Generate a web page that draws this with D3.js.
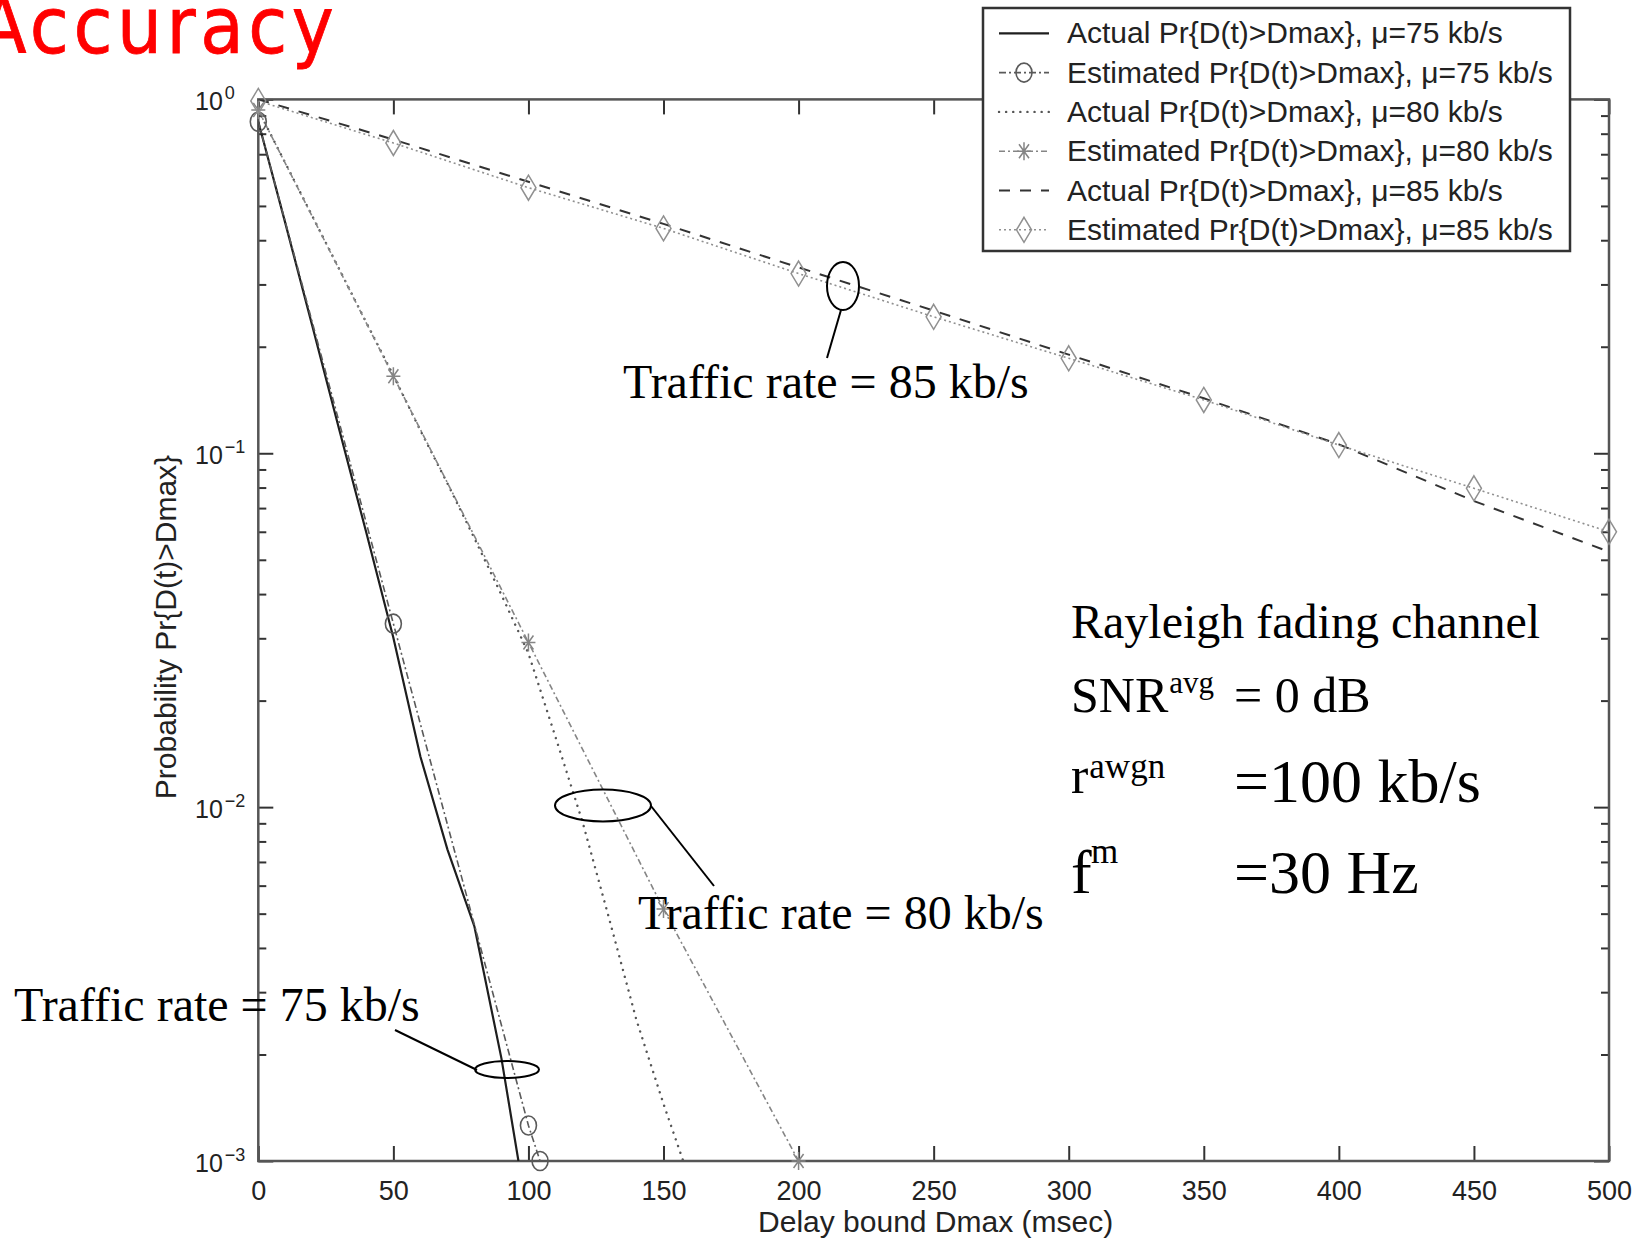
<!DOCTYPE html>
<html>
<head>
<meta charset="utf-8">
<script src="https://cdnjs.cloudflare.com/ajax/libs/d3/7.8.5/d3.min.js"></script>
<style>
  body { margin: 0; background: #fff; }
  svg { display: block; }
</style>
</head>
<body>
<svg id="chart" width="1640" height="1243"></svg>
<script>
//values: [delay bound Dmax (msec), probability Pr{D(t)>Dmax}]
var actual75 = [[0, 0.865], [10, 0.447], [20, 0.229], [30, 0.1164], [40, 0.0596], [50, 0.0301],
    [60, 0.0139], [70, 0.0076], [80, 0.0046], [90, 0.00195], [96.3, 0.001]];
var estimated75 = [[0, 0.865], [50, 0.033], [100, 0.00126], [104.3, 0.001]];
var actual80 = [[0, 0.933], [10, 0.661], [20, 0.468], [30, 0.331], [40, 0.234], [50, 0.166],
    [60, 0.116], [70, 0.0822], [80, 0.0575], [90, 0.0398], [100, 0.0272], [110, 0.0158],
    [120, 0.0091], [130, 0.0048], [140, 0.0025], [150, 0.00145], [157.3, 0.001]];
var estimated80 = [[0, 0.933], [50, 0.165], [100, 0.0292], [150, 0.00515], [200, 0.001]];
var actual85 = [[0, 1.0], [50, 0.77], [100, 0.585], [150, 0.445], [200, 0.335], [250, 0.253],
    [300, 0.19], [350, 0.143], [400, 0.106], [450, 0.0733], [500, 0.0527]];
var estimated85 = [[0, 0.99], [50, 0.753], [100, 0.563], [150, 0.432], [200, 0.322], [250, 0.243],
    [300, 0.1855], [350, 0.1415], [400, 0.1055], [450, 0.0796], [500, 0.06]];

//tick values and labels
var xTicks = [0, 50, 100, 150, 200, 250, 300, 350, 400, 450, 500];
var yMajor = [1, 0.1, 0.01, 0.001];
var yExponents = ["0", "\u22121", "\u22122", "\u22123"];

var legendLabels = [
    "Actual Pr{D(t)>Dmax}, \u03bc=75 kb/s",
    "Estimated Pr{D(t)>Dmax}, \u03bc=75 kb/s",
    "Actual Pr{D(t)>Dmax}, \u03bc=80 kb/s",
    "Estimated Pr{D(t)>Dmax}, \u03bc=80 kb/s",
    "Actual Pr{D(t)>Dmax}, \u03bc=85 kb/s",
    "Estimated Pr{D(t)>Dmax}, \u03bc=85 kb/s"
];

//how each series is drawn (same order as the legend)
var series = [
    {data: actual75, color: "#1e1e1e", width: 2.2, dash: null, marker: null},
    {data: estimated75, color: "#5a5a5a", width: 1.6, dash: "7,3,2,3", marker: "circle"},
    {data: actual80, color: "#555", width: 2.4, dash: "0.1,7", marker: null},
    {data: estimated80, color: "#858585", width: 1.6, dash: "6,3,2,3", marker: "star"},
    {data: actual85, color: "#333", width: 2, dash: "11,10", marker: null},
    {data: estimated85, color: "#909090", width: 1.6, dash: "2,3", marker: "diamond"}
];

const svg = d3.select("#chart");
const margin = {top: 99.4, left: 258.3},
    width = 1609 - margin.left,
    height = 1161 - margin.top;

const x = d3.scaleLinear().domain([0, 500]).range([0, width]);
const y = d3.scaleLog().domain([1e-3, 1]).range([height, 0]);

const sans = "'Liberation Sans', Arial, Helvetica, sans-serif";
const serif = "'Liberation Serif', 'Times New Roman', serif";

svg.append("defs").append("clipPath").attr("id", "plotClip")
    .append("rect").attr("width", width).attr("height", height);

const g = svg.append("g")
    .attr("transform", `translate(${margin.left},${margin.top})`);

//minor log ticks 2..9 of every decade
var yMinor = y.ticks().filter(d => yMajor.indexOf(d) < 0);

//axes, all ticks pointing inward like matlab
g.append("g")
    .attr("transform", `translate(0,${height})`)
    .call(d3.axisBottom(x).tickValues(xTicks).tickSize(-15).tickSizeOuter(0).tickPadding(20));
g.append("g")
    .call(d3.axisTop(x).tickValues(xTicks).tickSize(-15).tickSizeOuter(0).tickFormat(""));
g.append("g")
    .call(d3.axisLeft(y).tickValues(yMajor).tickSize(-15).tickSizeOuter(0).tickFormat(""));
g.append("g")
    .call(d3.axisLeft(y).tickValues(yMinor).tickSize(-8).tickSizeOuter(0).tickFormat(""));
g.append("g")
    .attr("transform", `translate(${width},0)`)
    .call(d3.axisRight(y).tickValues(yMajor).tickSize(-15).tickSizeOuter(0).tickFormat(""));
g.append("g")
    .attr("transform", `translate(${width},0)`)
    .call(d3.axisRight(y).tickValues(yMinor).tickSize(-8).tickSizeOuter(0).tickFormat(""));

g.selectAll(".domain").remove();
g.selectAll(".tick line").attr("stroke", "#333").attr("stroke-width", 2);
g.selectAll(".tick text")
    .attr("font-family", sans).attr("font-size", 27).attr("fill", "#222");

//y labels as 10 with a superscript exponent
var yLab = g.append("g").attr("font-family", sans).attr("fill", "#222")
    .selectAll("text").data(yMajor).join("text")
    .attr("x", 195 - margin.left)
    .attr("y", d => y(d) + 11)
    .attr("font-size", 25)
    .text("10");
yLab.append("tspan")
    .attr("dx", 2).attr("dy", -11)
    .attr("font-size", 18)
    .text((d, i) => yExponents[i]);

//plot frame
g.append("rect")
    .attr("width", width).attr("height", height)
    .attr("fill", "none").attr("stroke", "#555").attr("stroke-width", 2.5);

//curves
const line = d3.line().x(d => x(d[0])).y(d => y(d[1]));
g.append("g").attr("clip-path", "url(#plotClip)")
    .selectAll("path").data(series).join("path")
    .attr("d", d => line(d.data))
    .attr("fill", "none")
    .attr("stroke", d => d.color)
    .attr("stroke-width", d => d.width)
    .attr("stroke-linecap", d => d.dash == "0.1,7" ? "round" : "butt")
    .attr("stroke-dasharray", d => d.dash);

//draw one marker shape centred on cx,cy
function drawMarker(sel, type, cx, cy, color) {
    if (type == "circle") {
        sel.append("ellipse").attr("cx", cx).attr("cy", cy).attr("rx", 8).attr("ry", 9.5)
            .attr("fill", "none").attr("stroke", color).attr("stroke-width", 1.6);
    } else if (type == "diamond") {
        sel.append("path")
            .attr("d", `M${cx},${cy - 12.5}L${cx + 7.5},${cy}L${cx},${cy + 12.5}L${cx - 7.5},${cy}Z`)
            .attr("fill", "none").attr("stroke", color).attr("stroke-width", 1.5);
    } else if (type == "star") {
        sel.append("path")
            .attr("d", `M${cx - 7},${cy}h14M${cx},${cy - 9}v18M${cx - 5},${cy - 7}l10,14M${cx - 5},${cy + 7}l10,-14`)
            .attr("fill", "none").attr("stroke", color).attr("stroke-width", 1.5);
    }
}

var markerLayer = g.append("g");
series.forEach(function(s) {
    if (!s.marker) return;
    s.data.forEach(function(d) {
        drawMarker(markerLayer, s.marker, x(d[0]), y(d[1]), s.color);
    });
});

//axis titles
svg.append("text")
    .attr("x", margin.left + width / 2 + 2).attr("y", 1232)
    .attr("text-anchor", "middle")
    .attr("font-family", sans).attr("font-size", 30).attr("fill", "#222")
    .text("Delay bound Dmax (msec)");
svg.append("text")
    .attr("transform", "translate(176,627) rotate(-90)")
    .attr("text-anchor", "middle")
    .attr("font-family", sans).attr("font-size", 30).attr("fill", "#222")
    .text("Probability Pr{D(t)>Dmax}");

//legend box sits over the top right corner of the axes
var legend = svg.append("g");
legend.append("rect")
    .attr("x", 983).attr("y", 8).attr("width", 587).attr("height", 243)
    .attr("fill", "#fff").attr("stroke", "#333").attr("stroke-width", 2.5);
legendLabels.forEach(function(label, i) {
    var s = series[i];
    var base = 43.3 + i * 39.3;
    legend.append("line")
        .attr("x1", 999).attr("x2", 1049)
        .attr("y1", base - 10).attr("y2", base - 10)
        .attr("stroke", s.color).attr("stroke-width", s.width)
        .attr("stroke-linecap", s.dash == "0.1,7" ? "round" : "butt")
        .attr("stroke-dasharray", s.dash);
    if (s.marker) drawMarker(legend, s.marker, 1024, base - 10, s.color);
    legend.append("text")
        .attr("x", 1067).attr("y", base)
        .attr("font-family", sans).attr("font-size", 30).attr("fill", "#222")
        .text(label);
});

//hand drawn annotations: ellipse round the curves and a pointer line
var notes = svg.append("g").attr("fill", "none").attr("stroke", "#000").attr("stroke-width", 2);
notes.append("ellipse").attr("cx", 843).attr("cy", 286).attr("rx", 16).attr("ry", 24);
notes.append("line").attr("x1", 841).attr("y1", 310).attr("x2", 827).attr("y2", 358);
notes.append("ellipse").attr("cx", 603).attr("cy", 805.5).attr("rx", 48).attr("ry", 16);
notes.append("line").attr("x1", 651).attr("y1", 806).attr("x2", 714).attr("y2", 886);
notes.append("ellipse").attr("cx", 507).attr("cy", 1069.5).attr("rx", 32).attr("ry", 8.5);
notes.append("line").attr("x1", 395).attr("y1", 1030).attr("x2", 477).attr("y2", 1070);

var words = svg.append("g").attr("font-family", serif).attr("fill", "#000");
words.append("text").attr("x", 623).attr("y", 398).attr("font-size", 48).text("Traffic rate = 85 kb/s");
words.append("text").attr("x", 638).attr("y", 929).attr("font-size", 48).text("Traffic rate = 80 kb/s");
words.append("text").attr("x", 14).attr("y", 1021).attr("font-size", 48).text("Traffic rate = 75 kb/s");

//channel parameters
words.append("text").attr("x", 1071).attr("y", 638).attr("font-size", 48).text("Rayleigh fading channel");
var snr = words.append("text").attr("x", 1071).attr("y", 712).attr("font-size", 50);
snr.append("tspan").text("SNR");
snr.append("tspan").attr("dx", 1).attr("dy", -19).attr("font-size", 31).text("avg");
words.append("text").attr("x", 1234).attr("y", 712).attr("font-size", 50).text("= 0 dB");
var rate = words.append("text").attr("x", 1071).attr("y", 793).attr("font-size", 52);
rate.append("tspan").text("r");
rate.append("tspan").attr("dx", 1).attr("dy", -15).attr("font-size", 35).text("awgn");
words.append("text").attr("x", 1234).attr("y", 802).attr("font-size", 62).text("=100 kb/s");
words.append("text").attr("x", 1071).attr("y", 893).attr("font-size", 62).text("f");
words.append("text").attr("x", 1091).attr("y", 863).attr("font-size", 35).text("m");
words.append("text").attr("x", 1234).attr("y", 893).attr("font-size", 62).text("=30 Hz");

//slide title, cut off at the left edge
svg.append("text")
    .attr("transform", "translate(-22,53) scale(0.91,1)")
    .attr("font-family", "'DejaVu Sans', sans-serif")
    .attr("font-size", 78).attr("letter-spacing", 5)
    .attr("fill", "#ff0000").attr("stroke", "#ff0000").attr("stroke-width", 0.8)
    .text("Accuracy");
</script>
</body>
</html>
